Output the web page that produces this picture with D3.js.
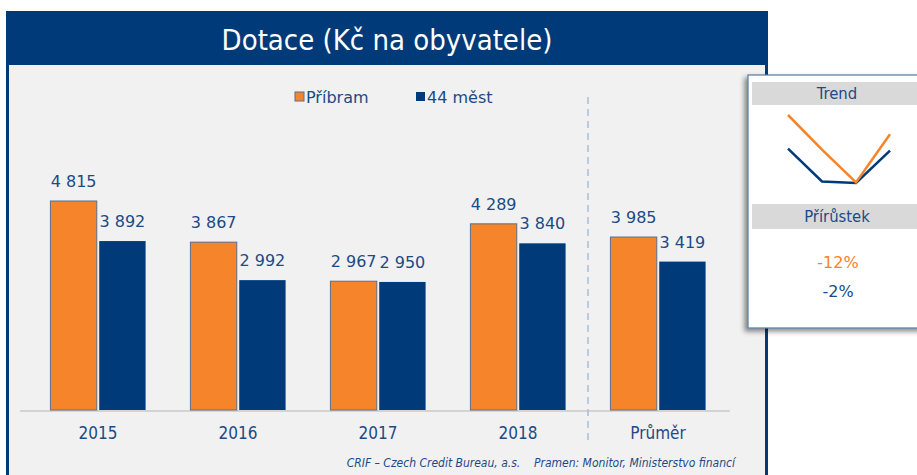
<!DOCTYPE html>
<html>
<head>
<meta charset="utf-8">
<script src="https://cdn.jsdelivr.net/npm/d3@7"></script>
<style>
  body { margin: 0; background: #fff; }
  svg { display: block; font-family: "DejaVu Sans", Verdana, sans-serif; }
</style>
</head>
<body>
<div id="chart"></div>
<script>
// data
const categories = ["2015", "2016", "2017", "2018", "Průměr"];
const seriesNames = ["Příbram", "44 měst"];
const pribram = [4815, 3867, 2967, 4289, 3985];
const mest44 = [3892, 2992, 2950, 3840, 3419];
const trendYears = ["2015", "2016", "2017", "2018"];
const growth = ["-12%", "-2%"];

const W = 917, H = 475;
const orange = "#f5842a", navy = "#003a78", textBlue = "#1c4a85";
const condensed = "DejaVu Sans Condensed, DejaVu Sans";
const fmt = v => d3.format(",")(v).replace(/,/g, " ");

const svg = d3.select("#chart").append("svg")
  .attr("width", W).attr("height", H);

// rámeček
svg.append("rect").attr("x", 6).attr("y", 11).attr("width", 762).attr("height", 480).attr("fill", navy);
svg.append("rect").attr("x", 9).attr("y", 65).attr("width", 756).attr("height", 420).attr("fill", "#f1f1f1");
svg.append("text")
  .attr("x", 387).attr("y", 50)
  .attr("text-anchor", "middle")
  .attr("fill", "#fff")
  .attr("font-family", condensed)
  .attr("font-size", 29)
  .text("Dotace (Kč na obyvatele)");

// osy
const x0 = d3.scaleBand().domain(categories).range([28, 728]).paddingInner(0.32).paddingOuter(0.16);
const x0b = d3.scaleBand().domain(categories).range([28, 728]);
const x1 = d3.scaleBand().domain(seriesNames).range([0, x0.bandwidth()]).paddingInner(0.05);
const y = d3.scaleLinear().domain([0, 4815]).range([410, 201]);

const g = svg.append("g");

// baseline
g.append("line")
  .attr("x1", 20).attr("x2", 730)
  .attr("y1", y(0) + 1).attr("y2", y(0) + 1)
  .attr("stroke", "#d3d3d3").attr("stroke-width", 2);

// dashed separator
g.append("line")
  .attr("x1", x0b("Průměr")).attr("x2", x0b("Průměr"))
  .attr("y1", 97).attr("y2", 440)
  .attr("stroke", "#a9bfd9").attr("stroke-width", 1.5)
  .attr("stroke-dasharray", "7,5");

const rows = categories.map((c, i) => ({ cat: c, vals: [pribram[i], mest44[i]] }));
const colors = [orange, navy];

const grp = g.selectAll("g.cat").data(rows).join("g")
  .attr("class", "cat")
  .attr("transform", d => `translate(${x0(d.cat)},0)`);

grp.selectAll("rect")
  .data(d => d.vals.map((v, j) => ({ v, j })))
  .join("rect")
  .attr("x", d => x1(seriesNames[d.j]))
  .attr("y", d => y(d.v))
  .attr("width", x1.bandwidth())
  .attr("height", d => y(0) - y(d.v))
  .attr("fill", d => colors[d.j])
  .attr("stroke", d => d.j === 0 ? "#5a6f8c" : "none")
  .attr("stroke-width", 1);

grp.selectAll("text")
  .data(d => d.vals.map((v, j) => ({ v, j })))
  .join("text")
  .attr("x", d => x1(seriesNames[d.j]) + x1.bandwidth() / 2)
  .attr("y", d => y(d.v) - 14)
  .attr("text-anchor", "middle")
  .attr("fill", textBlue)
  .attr("font-size", 16)
  .text(d => fmt(d.v));

// kategorie
g.selectAll("text.cat-label").data(categories).join("text")
  .attr("class", "cat-label")
  .attr("x", d => x0b(d) + x0b.bandwidth() / 2)
  .attr("y", 439)
  .attr("text-anchor", "middle")
  .attr("fill", textBlue)
  .attr("font-family", condensed)
  .attr("font-size", 17)
  .text(d => d);

// legenda
const legX = [295, 416];
const leg = g.selectAll("g.leg").data(seriesNames).join("g")
  .attr("class", "leg")
  .attr("transform", (d, i) => `translate(${legX[i]},92)`);
leg.append("rect")
  .attr("width", 9).attr("height", 9)
  .attr("fill", (d, i) => colors[i])
  .attr("stroke", (d, i) => i === 0 ? "#5a6f8c" : "none");
leg.append("text")
  .attr("x", 11).attr("y", 11)
  .attr("fill", textBlue)
  .attr("font-size", 16)
  .text(d => d);

// zdroj
svg.append("text")
  .attr("x", 735).attr("y", 467)
  .attr("text-anchor", "end")
  .attr("fill", textBlue)
  .attr("font-size", 12)
  .attr("font-style", "italic")
  .attr("font-family", condensed)
  .attr("xml:space", "preserve")
  .text("CRIF – Czech Credit Bureau, a.s.    Pramen: Monitor, Ministerstvo financí");

// panel trend
const defs = svg.append("defs");
const f = defs.append("filter").attr("id", "shadow").attr("x", "-20%").attr("y", "-20%").attr("width", "140%").attr("height", "140%");
f.append("feDropShadow").attr("dx", -3).attr("dy", 3).attr("stdDeviation", 2.5).attr("flood-color", "#000").attr("flood-opacity", 0.45);

const panel = svg.append("g");
panel.append("rect")
  .attr("x", 748).attr("y", 75).attr("width", 180).attr("height", 253)
  .attr("fill", "#fff").attr("stroke", "#5479a6").attr("stroke-width", 1.2)
  .attr("filter", "url(#shadow)");

[["Trend", 82, 23, 99], ["Přírůstek", 204, 25, 222]].forEach(([t, yy, hh, ty]) => {
  panel.append("rect").attr("x", 752).attr("y", yy).attr("width", 170).attr("height", hh).attr("fill", "#d9d9d9");
  panel.append("text").attr("x", 837).attr("y", ty)
    .attr("text-anchor", "middle").attr("fill", textBlue)
    .attr("font-family", condensed).attr("font-size", 16.5).text(t);
});

const tx = d3.scalePoint().domain(trendYears).range([788, 890]);
const ty = d3.scaleLinear()
  .domain(d3.extent(pribram.slice(0, 4).concat(mest44.slice(0, 4))))
  .range([183, 115]);
const line = d3.line().x((d, i) => tx(trendYears[i])).y(d => ty(d));
[[mest44, navy], [pribram, orange]].forEach(([s, c]) => {
  panel.append("path")
    .attr("d", line(s.slice(0, 4)))
    .attr("fill", "none").attr("stroke", c).attr("stroke-width", 2.5);
});

panel.selectAll("text.growth").data(growth).join("text")
  .attr("class", "growth")
  .attr("x", 838).attr("y", (d, i) => 268 + i * 29)
  .attr("text-anchor", "middle")
  .attr("fill", (d, i) => i === 0 ? orange : textBlue)
  .attr("font-size", 16)
  .text(d => d);
</script>
</body>
</html>
